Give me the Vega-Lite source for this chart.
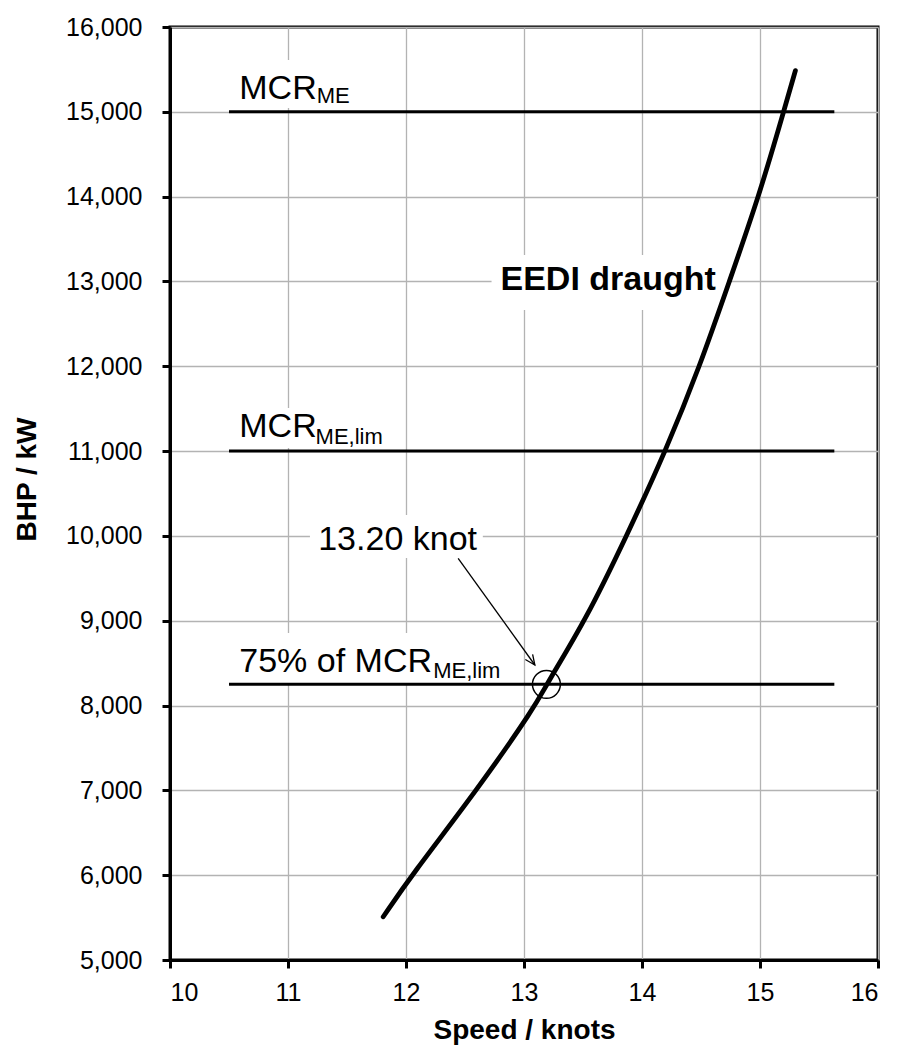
{
  "$schema": "https://vega.github.io/schema/vega-lite/v6.json",
  "width": 708,
  "height": 933,
  "autosize": {"type": "none"},
  "padding": {"left": 170, "top": 27, "right": 21, "bottom": 90},
  "background": "white",
  "config": {
    "font": "Liberation Sans",
    "view": {"stroke": "black", "strokeWidth": 3},
    "axis": {
      "domainColor": "black", "domainWidth": 3,
      "tickColor": "black", "tickWidth": 3, "tickSize": 8,
      "gridColor": "#b3b3b3", "gridWidth": 1.3,
      "labelFont": "Liberation Sans", "labelFontSize": 25, "labelColor": "black",
      "titleFont": "Liberation Sans", "titleFontSize": 28, "titleFontWeight": "bold", "titleColor": "black"
    }
  },
  "datasets": {
    "curve": [
      {"speed": 11.807, "bhp": 5510},
      {"speed": 12.047, "bhp": 6000},
      {"speed": 12.60, "bhp": 7000},
      {"speed": 13.10, "bhp": 8000},
      {"speed": 13.19, "bhp": 8250},
      {"speed": 13.52, "bhp": 9000},
      {"speed": 13.87, "bhp": 10000},
      {"speed": 14.20, "bhp": 11000},
      {"speed": 14.49, "bhp": 12000},
      {"speed": 14.74, "bhp": 13000},
      {"speed": 14.99, "bhp": 14000},
      {"speed": 15.20, "bhp": 15000},
      {"speed": 15.30, "bhp": 15485}
    ],
    "limits": [
      {"name": "MCR_ME", "speed": 10.5, "speed2": 15.63, "bhp": 15000},
      {"name": "MCR_ME,lim", "speed": 10.5, "speed2": 15.63, "bhp": 11000},
      {"name": "75% of MCR_ME,lim", "speed": 10.5, "speed2": 15.63, "bhp": 8250}
    ],
    "boxes": [
      {"speed": 10.55, "speed2": 11.29, "bhp": 15611, "bhp2": 15045},
      {"speed": 10.55, "speed2": 11.82, "bhp": 11508, "bhp2": 11037},
      {"speed": 10.55, "speed2": 12.81, "bhp": 8855, "bhp2": 8266},
      {"speed": 11.186, "speed2": 12.651, "bhp": 10247, "bhp2": 9740},
      {"speed": 12.725, "speed2": 14.74, "bhp": 13312, "bhp2": 12664}
    ],
    "arrow": [
      {"speed": 12.442, "bhp": 9736, "speed2": 13.092, "bhp2": 8478}
    ],
    "arrowhead": [
      {"speed": 13.092, "bhp": 8478}
    ],
    "marker": [
      {"speed": 13.19, "bhp": 8250}
    ],
    "labels": [
      {"speed": 10.587, "bhp": 15148, "text": "MCR", "kind": "main"},
      {"speed": 11.243, "bhp": 15100, "text": "ME", "kind": "sub"},
      {"speed": 10.587, "bhp": 11163, "text": "MCR", "kind": "main"},
      {"speed": 11.234, "bhp": 11080, "text": "ME,lim", "kind": "sub"},
      {"speed": 10.587, "bhp": 8399, "text": "75% of MCR", "kind": "main"},
      {"speed": 12.230, "bhp": 8325, "text": "ME,lim", "kind": "sub"},
      {"speed": 11.256, "bhp": 9834, "text": "13.20 knot", "kind": "main"},
      {"speed": 12.801, "bhp": 12899, "text": "EEDI draught", "kind": "bold"}
    ]
  },
  "encoding": {
    "x": {
      "field": "speed", "type": "quantitative",
      "scale": {"domain": [10, 16], "nice": false, "zero": false},
      "axis": {
        "title": "Speed / knots",
        "values": [10, 11, 12, 13, 14, 15, 16],
        "grid": true,
        "labelPadding": 12,
        "titleBaseline": "middle",
        "titleY": 70
      }
    },
    "y": {
      "field": "bhp", "type": "quantitative",
      "scale": {"domain": [5000, 16000], "nice": false, "zero": false},
      "axis": {
        "title": "BHP / kW",
        "values": [5000, 6000, 7000, 8000, 9000, 10000, 11000, 12000, 13000, 14000, 15000, 16000],
        "format": ",d",
        "grid": true,
        "labelPadding": 20,
        "titleAngle": 270,
        "titleAlign": "center",
        "titleBaseline": "middle",
        "titleX": -143,
        "titleY": 452
      }
    }
  },
  "layer": [
    {
      "data": {"name": "boxes"},
      "mark": {"type": "rect", "fill": "white", "stroke": null},
      "encoding": {
        "x2": {"field": "speed2"},
        "y2": {"field": "bhp2"}
      }
    },
    {
      "data": {"name": "limits"},
      "mark": {"type": "rule", "color": "black", "strokeWidth": 3},
      "encoding": {
        "x2": {"field": "speed2"}
      }
    },
    {
      "data": {"name": "curve"},
      "mark": {"type": "line", "color": "black", "strokeWidth": 4.8, "strokeCap": "round", "interpolate": "basis"},
      "encoding": {}
    },
    {
      "data": {"name": "marker"},
      "mark": {"type": "point", "shape": "circle", "size": 780, "filled": false, "stroke": "black", "strokeWidth": 1.5, "opacity": 1},
      "encoding": {}
    },
    {
      "data": {"name": "arrow"},
      "mark": {"type": "rule", "color": "black", "strokeWidth": 1.3},
      "encoding": {
        "x2": {"field": "speed2"},
        "y2": {"field": "bhp2"}
      }
    },
    {
      "data": {"name": "arrowhead"},
      "mark": {"type": "point", "shape": "M -0.45 -1 L 0 0 L 0.45 -1", "size": 400, "filled": false, "stroke": "black", "strokeWidth": 1.3, "angle": 324, "opacity": 1},
      "encoding": {}
    },
    {
      "data": {"name": "labels"},
      "transform": [{"filter": "datum.kind === 'main'"}],
      "mark": {"type": "text", "align": "left", "baseline": "alphabetic", "fontSize": 34, "color": "black"},
      "encoding": {"text": {"field": "text"}}
    },
    {
      "data": {"name": "labels"},
      "transform": [{"filter": "datum.kind === 'sub'"}],
      "mark": {"type": "text", "align": "left", "baseline": "alphabetic", "fontSize": 22, "color": "black"},
      "encoding": {"text": {"field": "text"}}
    },
    {
      "data": {"name": "labels"},
      "transform": [{"filter": "datum.kind === 'bold'"}],
      "mark": {"type": "text", "align": "left", "baseline": "alphabetic", "fontSize": 34, "fontWeight": "bold", "color": "black"},
      "encoding": {"text": {"field": "text"}}
    }
  ]
}
